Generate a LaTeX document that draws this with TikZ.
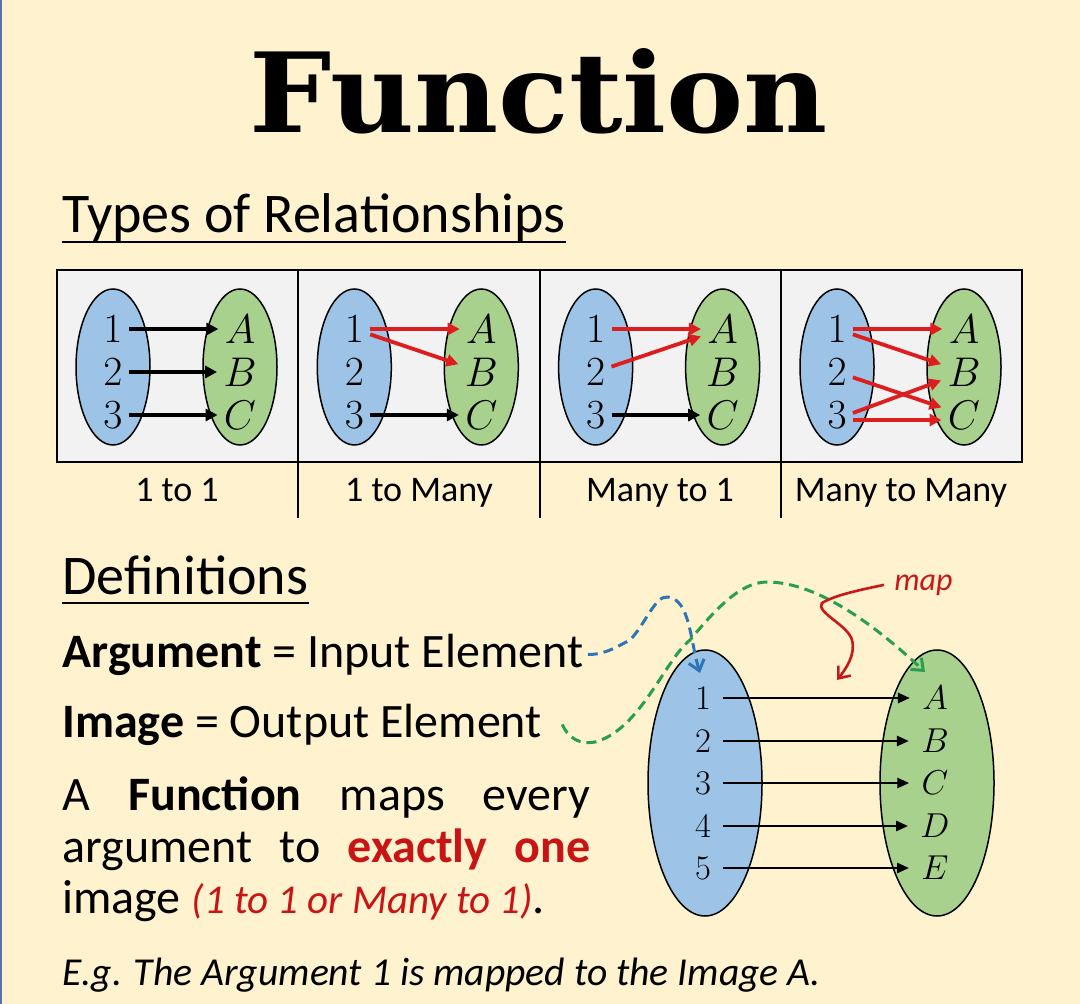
\documentclass[tikz,border=0pt]{standalone}
\usepackage{fontspec}
\setmainfont{Carlito}
\newfontfamily\titlefont{DejaVu Serif}
\usetikzlibrary{arrows.meta,shapes.geometric}
\definecolor{cream}{RGB}{255,242,206}
\definecolor{panelgray}{RGB}{242,242,242}
\definecolor{setblue}{RGB}{157,195,230}
\definecolor{setgreen}{RGB}{169,209,142}
\definecolor{linkred}{RGB}{222,30,30}
\definecolor{textred}{RGB}{200,20,20}
\definecolor{dashblue}{RGB}{46,117,182}
\definecolor{dashgreen}{RGB}{40,160,75}
\definecolor{mapred}{RGB}{200,25,25}
\definecolor{edgeblue}{RGB}{90,110,170}

\begin{document}
\begin{tikzpicture}[
  x=0.5pt, y=-0.5pt,
  every node/.style={inner sep=0pt},
  setin/.style={ellipse, draw, line width=0.75pt, fill=setblue,
    minimum width=37pt, minimum height=78pt},
  setout/.style={setin, fill=setgreen},
  elem/.style={font=\fontsize{20}{20}\selectfont, inner xsep=3pt},
  bigelem/.style={font=\fontsize{19}{19}\selectfont, inner xsep=6pt},
  link/.style={line width=1.9pt, -{Triangle[length=6pt,width=6pt]}},
  redlink/.style={link, linkred},
  thinlink/.style={line width=1.3pt, -{Triangle[length=6pt,width=5pt]}},
  heading/.style={anchor=base west, font=\fontsize{28}{30}\selectfont},
  body/.style={anchor=base west, font=\fontsize{24}{26}\selectfont},
  caption/.style={anchor=base, font=\fontsize{18}{20}\selectfont},
  uline/.style={line width=1.4pt},
  dashlink/.style={line width=1.5pt, dash pattern=on 5pt off 3pt,
    -{Straight Barb[length=5pt,width=8pt]}}
]
\fill[cream] (0,0) rectangle (1080,1004);
\useasboundingbox (0,0) rectangle (1080,1004);
\draw[edgeblue, line width=1pt] (0.8,0) -- (0.8,1004);

% title and headings
\node[anchor=base] (title) at (539,133)
  {\resizebox{289pt}{42pt}{\titlefont\bfseries Function}};
\node[heading] (types) at (62,233) {Types of Relationships};
\draw[uline] ([yshift=-4.5pt]types.base west) -- ([yshift=-4.5pt]types.base east);

% relationship panels
\draw[line width=0.8pt, fill=panelgray] (57,270) rectangle (1022,462);
\foreach \dx in {298,540,781}
  \draw[line width=0.8pt] (\dx,270) -- (\dx,518);
\foreach \p/\px in {a/113, b/354.3, c/595.6, d/837}{
  \node[setin] (\p-in) at (\px,367) {};
  \node[setout] (\p-out) at (\px+127,367) {};
  \foreach \k/\ky in {1/329, 2/372, 3/415}
    \node[elem] (\p-\k) at (\px,\ky) {$\k$};
  \foreach \k/\ky in {A/329, B/372, C/415}
    \node[elem] (\p-\k) at (\px+127,\ky) {$\k$};
}
\node[caption] (a-cap) at (177,502) {1 to 1};
\node[caption] (b-cap) at (419,502) {1 to Many};
\node[caption] (c-cap) at (660,502) {Many to 1};
\node[caption] (d-cap) at (901,502) {Many to Many};

\draw[link] (a-1) -- (a-A);
\draw[link] (a-2) -- (a-B);
\draw[link] (a-3) -- (a-C);

\draw[redlink] (b-1) -- (b-A);
\draw[redlink] (b-1) -- (b-B);
\draw[link] (b-3) -- (b-C);

\draw[redlink] (c-1) -- (c-A);
\draw[redlink] (c-2) -- (c-A);
\draw[link] (c-3) -- (c-C);

\draw[redlink] (d-1) -- (d-A);
\draw[redlink] (d-1) -- (d-B);
\draw[redlink] (d-2) -- (d-C);
\draw[redlink] ([yshift=1pt]d-3.east) -- (d-B);
\draw[redlink] ([yshift=-2.5pt]d-3.east) -- ([yshift=-2.5pt]d-C.west);

% definitions
\node[heading] (defs) at (62,595) {Definitions};
\draw[uline] ([yshift=-4pt]defs.base west) -- ([yshift=-4pt]defs.base east);
\node[body] (arg) at (62,667) {\textbf{Argument} = Input Element};
\node[body] (img) at (62,737) {\textbf{Image} = Output Element};
\node[body] (fn1) at (62,810) {\makebox[264pt][s]{A \textbf{Function} maps every}};
\node[body] (fn2) at (62,862)
  {\makebox[264pt][s]{argument to \textcolor{textred}{\textbf{exactly one}}}};
\node[body] (fn3) at (62,913)
  {image {\fontsize{20.5}{22}\selectfont\color{textred}\itshape (1 to 1 or Many to 1)}.};
\node[anchor=base west, font=\fontsize{19.8}{22}\selectfont\itshape] (eg) at (62,985)
  {E.g. The Argument 1 is mapped to the Image A.};

% mapping diagram
\node[setin, minimum width=57pt, minimum height=133pt] (in) at (705,783) {};
\node[setout, minimum width=57pt, minimum height=133pt] (out) at (937,783) {};
\foreach \k/\ky/\l in {1/698/A, 2/741/B, 3/783/C, 4/826/D, 5/868/E}{
  \node[bigelem] (x\k) at (703,\ky) {$\k$};
  \node[bigelem] (y\l) at (935,\ky) {$\l$};
  \draw[thinlink] (x\k) -- (y\l);
}
\node[anchor=base west, font=\fontsize{16}{16}\selectfont\itshape, text=mapred]
  (maplbl) at (894,590) {map};
\coordinate (argtip) at (700,673);
\coordinate (imgtip) at (925,672);
\coordinate (maptip) at (837,680);

\draw[dashlink, dashblue] ([xshift=2pt]arg.east)
  .. controls (605,655) and (618,646) .. (630,640)
  .. controls (645,625) and (655,595) .. (668,597)
  .. controls (690,600) and (690,640) .. (argtip);
\draw[dashlink, dashgreen] ([xshift=10pt]img.east)
  .. controls (568,738) and (580,745) .. (595,742)
  .. controls (640,730) and (665,660) .. (690,640)
  .. controls (715,610) and (740,582) .. (767,582)
  .. controls (820,582) and (880,630) .. (imgtip);
\draw[mapred, line width=1.3pt, -{Straight Barb[length=5pt,width=8pt]}]
  ([xshift=-5pt]maplbl.west)
  .. controls (860,590) and (835,595) .. (822,603)
  .. controls (815,612) and (848,625) .. (852,640)
  .. controls (856,655) and (845,670) .. (maptip);
\end{tikzpicture}
\end{document}
